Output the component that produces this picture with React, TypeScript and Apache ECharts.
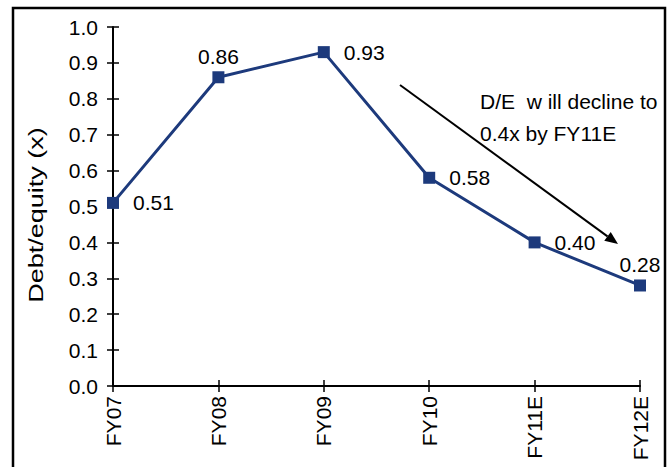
import React, { useEffect, useRef } from "react";
import * as echarts from "echarts";

// Debt/equity ratio by fiscal year
const categories = ["FY07", "FY08", "FY09", "FY10", "FY11E", "FY12E"];
const debtEquity = [0.51, 0.86, 0.93, 0.58, 0.4, 0.28];
const labelPositions = ["right", "top", "right", "right", "right", "top"];
const yTicks = [0, 0.1, 0.2, 0.3, 0.4, 0.5, 0.6, 0.7, 0.8, 0.9, 1.0];

const FONT = "'Liberation Sans', Arial, sans-serif";
const NAVY = "#1d3a7c";

export default function App() {
  const ref = useRef<HTMLDivElement>(null);

  useEffect(() => {
    if (!ref.current) return;
    const chart = echarts.init(ref.current, undefined, { renderer: "svg" });

    // arrow from the annotation toward the forecast years
    const start = [400, 85];
    const tip = [618, 244];
    const dx = tip[0] - start[0];
    const dy = tip[1] - start[1];
    const len = Math.sqrt(dx * dx + dy * dy);
    const ux = dx / len;
    const uy = dy / len;
    const headLen = 13;
    const headHalf = 5.5;
    const bx = tip[0] - ux * headLen;
    const by = tip[1] - uy * headLen;

    const yMin = yTicks[0];
    const yMax = yTicks[yTicks.length - 1];

    chart.setOption({
      animation: false,
      backgroundColor: "#ffffff",
      grid: { left: 113, right: 32, top: 27, bottom: 81, containLabel: false },
      xAxis: [
        {
          type: "category",
          data: categories,
          boundaryGap: false,
          axisLine: { show: true, lineStyle: { color: "#000", width: 2 } },
          axisTick: { show: true, length: 6, alignWithLabel: true, lineStyle: { color: "#000", width: 1.5 } },
          axisLabel: {
            rotate: 90,
            margin: 10,
            color: "#000",
            fontFamily: FONT,
            fontSize: 21,
          },
          splitLine: { show: false },
        },
        {
          type: "category",
          data: categories,
          boundaryGap: false,
          position: "bottom",
          axisLine: { show: false },
          axisTick: { show: true, inside: true, length: 6, lineStyle: { color: "#000", width: 1.5 } },
          axisLabel: { show: false },
          splitLine: { show: false },
        },
      ],
      yAxis: [
        {
          type: "value",
          min: yMin,
          max: yMax,
          interval: 0.1,
          axisLine: { show: true, lineStyle: { color: "#000", width: 2 } },
          axisTick: { show: true, length: 6, lineStyle: { color: "#000", width: 1.5 } },
          axisLabel: {
            margin: 15,
            color: "#000",
            fontFamily: FONT,
            fontSize: 21,
            formatter: (v: number) => v.toFixed(1),
          },
          splitLine: { show: false },
        },
        {
          type: "value",
          min: yMin,
          max: yMax,
          interval: 0.1,
          position: "left",
          axisLine: { show: false },
          axisTick: { show: true, inside: true, length: 6, lineStyle: { color: "#000", width: 1.5 } },
          axisLabel: { show: false },
          splitLine: { show: false },
        },
      ],
      series: [
        {
          type: "line",
          data: debtEquity.map((v, i) => ({
            value: v,
            label: {
              position: labelPositions[i],
              distance: labelPositions[i] === "top" ? 4 : 14,
            },
          })),
          symbol: "rect",
          symbolSize: 12,
          lineStyle: { color: NAVY, width: 3 },
          itemStyle: { color: NAVY },
          label: {
            show: true,
            color: "#000",
            fontFamily: FONT,
            fontSize: 21,
            formatter: (p: any) => (p.value as number).toFixed(2),
          },
          z: 5,
        },
      ],
      graphic: [
        {
          type: "rect",
          shape: { x: 13, y: 8, width: 652, height: 480 },
          style: { fill: "none", stroke: "#000", lineWidth: 2.5 },
          silent: true,
        },
        {
          // y-axis title, stretched along its length
          type: "text",
          x: 36,
          y: 215,
          rotation: Math.PI / 2,
          scaleX: 1.35,
          style: {
            text: "Debt/equity (x)",
            fill: "#000",
            font: `20px ${FONT}`,
            align: "center",
            verticalAlign: "middle",
          },
        },
        {
          type: "line",
          shape: { x1: start[0], y1: start[1], x2: bx, y2: by },
          style: { stroke: "#000", lineWidth: 2 },
        },
        {
          type: "polygon",
          shape: {
            points: [
              [tip[0], tip[1]],
              [bx - uy * headHalf, by + ux * headHalf],
              [bx + uy * headHalf, by - ux * headHalf],
            ],
          },
          style: { fill: "#000" },
        },
        {
          type: "text",
          x: 480,
          y: 101,
          style: {
            text: "D/E  w ill decline to",
            fill: "#000",
            font: `21px ${FONT}`,
            verticalAlign: "middle",
          },
        },
        {
          type: "text",
          x: 480,
          y: 133,
          style: {
            text: "0.4x by FY11E",
            fill: "#000",
            font: `21px ${FONT}`,
            verticalAlign: "middle",
          },
        },
      ],
    });

    return () => chart.dispose();
  }, []);

  return (
    <div
      ref={ref}
      style={{ position: "fixed", left: 0, top: 0, width: 672, height: 467, background: "#fff" }}
    />
  );
}
